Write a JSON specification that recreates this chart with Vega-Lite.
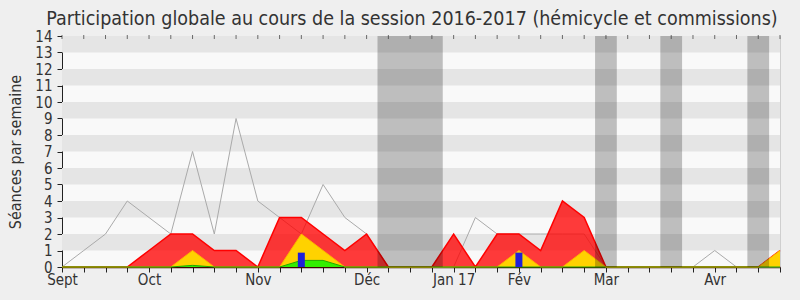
{
  "$schema": "https://vega.github.io/schema/vega-lite/v6.json",
  "width": 718,
  "height": 231,
  "autosize": {"type": "none"},
  "padding": {"left": 62, "top": 36, "right": 20, "bottom": 33},
  "background": "#efefef",
  "config": {
    "font": "DejaVu Sans Condensed, DejaVu Sans",
    "view": {"fill": "#f9f9f9", "stroke": "#cfcfcf", "strokeWidth": 1},
    "axisX": {
      "tickCount": 33,
      "labelExpr": "['Sept','','','','Oct','','','','','Nov','','','','','Déc','','','','Jan 17','','','Fév','','','','Mar','','','','','Avr','','',''][datum.value]",
      "labelOverlap": false,
      "labelFlush": false,
      "labelBound": false,
      "labelFontSize": 15,
      "labelColor": "#333333",
      "labelPadding": 0,
      "domainColor": "#3a0a00",
      "domainWidth": 1.5,
      "tickColor": "#222222",
      "tickSize": 5,
      "grid": false
    },
    "axisY": {
      "tickCount": 14,
      "labelFontSize": 15,
      "labelColor": "#333333",
      "labelPadding": 5,
      "domainColor": "#222222",
      "tickColor": "#222222",
      "tickSize": 5,
      "grid": false,
      "titleFontSize": 16,
      "titleFontWeight": "normal",
      "titleColor": "#333333",
      "titlePadding": 11
    }
  },
  "title": {
    "text": "Participation globale au cours de la session 2016-2017 (hémicycle et commissions)",
    "fontSize": 19.5,
    "fontWeight": "normal",
    "color": "#333333",
    "font": "DejaVu Sans Condensed, DejaVu Sans",
    "anchor": "middle",
    "offset": 0,
    "dx": -9
  },
  "datasets": {
    "stripes": [
      {"lo": 1, "hi": 2}, {"lo": 3, "hi": 4}, {"lo": 5, "hi": 6}, {"lo": 7, "hi": 8},
      {"lo": 9, "hi": 10}, {"lo": 11, "hi": 12}, {"lo": 13, "hi": 14}
    ],
    "vacances": [
      {"debut": 14.5, "fin": 17.5},
      {"debut": 24.5, "fin": 25.5},
      {"debut": 27.5, "fin": 28.5},
      {"debut": 31.5, "fin": 32.5}
    ],
    "semaines": [
      {"semaine": 0, "mediane": 0, "presences": 0, "interventions": 0, "amendements": 0, "questions": 0},
      {"semaine": 1, "mediane": 1, "presences": 0, "interventions": 0, "amendements": 0, "questions": 0},
      {"semaine": 2, "mediane": 2, "presences": 0, "interventions": 0, "amendements": 0, "questions": 0},
      {"semaine": 3, "mediane": 4, "presences": 0, "interventions": 0, "amendements": 0, "questions": 0},
      {"semaine": 4, "mediane": 3, "presences": 1, "interventions": 0, "amendements": 0, "questions": 0},
      {"semaine": 5, "mediane": 2, "presences": 2, "interventions": 0, "amendements": 0, "questions": 0},
      {"semaine": 6, "mediane": 7, "presences": 2, "interventions": 1, "amendements": 0.1, "questions": 0},
      {"semaine": 7, "mediane": 2, "presences": 1, "interventions": 0, "amendements": 0, "questions": 0},
      {"semaine": 8, "mediane": 9, "presences": 1, "interventions": 0, "amendements": 0, "questions": 0},
      {"semaine": 9, "mediane": 4, "presences": 0, "interventions": 0, "amendements": 0, "questions": 0},
      {"semaine": 10, "mediane": 3, "presences": 3, "interventions": 0, "amendements": 0, "questions": 0},
      {"semaine": 11, "mediane": 2, "presences": 3, "interventions": 2, "amendements": 0.4, "questions": 0.87},
      {"semaine": 12, "mediane": 5, "presences": 2, "interventions": 1, "amendements": 0.4, "questions": 0},
      {"semaine": 13, "mediane": 3, "presences": 1, "interventions": 0, "amendements": 0, "questions": 0},
      {"semaine": 14, "mediane": 2, "presences": 2, "interventions": 0, "amendements": 0, "questions": 0},
      {"semaine": 15, "mediane": 0, "presences": 0, "interventions": 0, "amendements": 0, "questions": 0},
      {"semaine": 16, "mediane": 0, "presences": 0, "interventions": 0, "amendements": 0, "questions": 0},
      {"semaine": 17, "mediane": 0, "presences": 0, "interventions": 0, "amendements": 0, "questions": 0},
      {"semaine": 18, "mediane": 0, "presences": 2, "interventions": 0, "amendements": 0, "questions": 0},
      {"semaine": 19, "mediane": 3, "presences": 0, "interventions": 0, "amendements": 0, "questions": 0},
      {"semaine": 20, "mediane": 2, "presences": 2, "interventions": 0, "amendements": 0, "questions": 0},
      {"semaine": 21, "mediane": 2, "presences": 2, "interventions": 1, "amendements": 0, "questions": 0.87},
      {"semaine": 22, "mediane": 2, "presences": 1, "interventions": 0, "amendements": 0, "questions": 0},
      {"semaine": 23, "mediane": 2, "presences": 4, "interventions": 0, "amendements": 0, "questions": 0},
      {"semaine": 24, "mediane": 2, "presences": 3, "interventions": 1, "amendements": 0, "questions": 0},
      {"semaine": 25, "mediane": 0, "presences": 0, "interventions": 0, "amendements": 0, "questions": 0},
      {"semaine": 26, "mediane": 0, "presences": 0, "interventions": 0, "amendements": 0, "questions": 0},
      {"semaine": 27, "mediane": 0, "presences": 0, "interventions": 0, "amendements": 0, "questions": 0},
      {"semaine": 28, "mediane": 0, "presences": 0, "interventions": 0, "amendements": 0, "questions": 0},
      {"semaine": 29, "mediane": 0, "presences": 0, "interventions": 0, "amendements": 0, "questions": 0},
      {"semaine": 30, "mediane": 1, "presences": 0, "interventions": 0, "amendements": 0, "questions": 0},
      {"semaine": 31, "mediane": 0, "presences": 0, "interventions": 0, "amendements": 0, "questions": 0},
      {"semaine": 32, "mediane": 0, "presences": 0, "interventions": 0, "amendements": 0, "questions": 0},
      {"semaine": 33, "mediane": 0, "presences": 1, "interventions": 1, "amendements": 0, "questions": 0}
    ]
  },
  "layer": [
    {
      "data": {"name": "stripes"},
      "mark": {"type": "rect", "color": "#e5e5e5"},
      "encoding": {
        "y": {
          "field": "lo", "type": "quantitative",
          "scale": {"domain": [0, 14], "nice": false, "zero": true},
          "title": "Séances par semaine"
        },
        "y2": {"field": "hi"}
      }
    },
    {
      "data": {"name": "semaines"},
      "mark": {"type": "line", "color": "#aaaaaa", "strokeWidth": 1},
      "encoding": {
        "x": {
          "field": "semaine", "type": "quantitative",
          "scale": {"domain": [0, 33], "nice": false, "zero": false, "padding": 0},
          "title": null
        },
        "y": {"field": "mediane", "type": "quantitative", "title": "Séances par semaine"}
      }
    },
    {
      "data": {"name": "semaines"},
      "mark": {"type": "area", "color": "#ff0000", "fillOpacity": 0.77, "line": {"color": "#ff0000", "strokeWidth": 1.5}},
      "encoding": {
        "x": {"field": "semaine", "type": "quantitative", "title": null},
        "y": {"field": "presences", "type": "quantitative", "title": "Séances par semaine"}
      }
    },
    {
      "data": {"name": "semaines"},
      "mark": {"type": "area", "color": "#ffd200", "fillOpacity": 1, "line": {"color": "#ffb000", "strokeWidth": 1}},
      "encoding": {
        "x": {"field": "semaine", "type": "quantitative", "title": null},
        "y": {"field": "interventions", "type": "quantitative", "title": "Séances par semaine"}
      }
    },
    {
      "data": {"name": "semaines"},
      "mark": {"type": "area", "color": "#33ee00", "fillOpacity": 1, "line": {"color": "#22aa00", "strokeWidth": 1}},
      "encoding": {
        "x": {"field": "semaine", "type": "quantitative", "title": null},
        "y": {"field": "amendements", "type": "quantitative", "title": "Séances par semaine"}
      }
    },
    {
      "data": {"name": "semaines"},
      "transform": [{"filter": "datum.questions > 0"}],
      "mark": {"type": "bar", "color": "#2020d8", "size": 7},
      "encoding": {
        "x": {"field": "semaine", "type": "quantitative", "title": null},
        "y": {"field": "questions", "type": "quantitative", "title": "Séances par semaine"}
      }
    },
    {
      "data": {"name": "vacances"},
      "mark": {"type": "rect", "color": "#000000", "opacity": 0.235},
      "encoding": {
        "x": {"field": "debut", "type": "quantitative", "title": null},
        "x2": {"field": "fin"}
      }
    },
    {
      "data": {"name": "semaines"},
      "mark": {"type": "tick", "orient": "vertical", "color": "#333333", "size": 4, "thickness": 1, "yOffset": 1},
      "encoding": {
        "x": {"field": "semaine", "type": "quantitative", "title": null},
        "y": {"datum": 14, "type": "quantitative", "title": "Séances par semaine"}
      }
    }
  ]
}
